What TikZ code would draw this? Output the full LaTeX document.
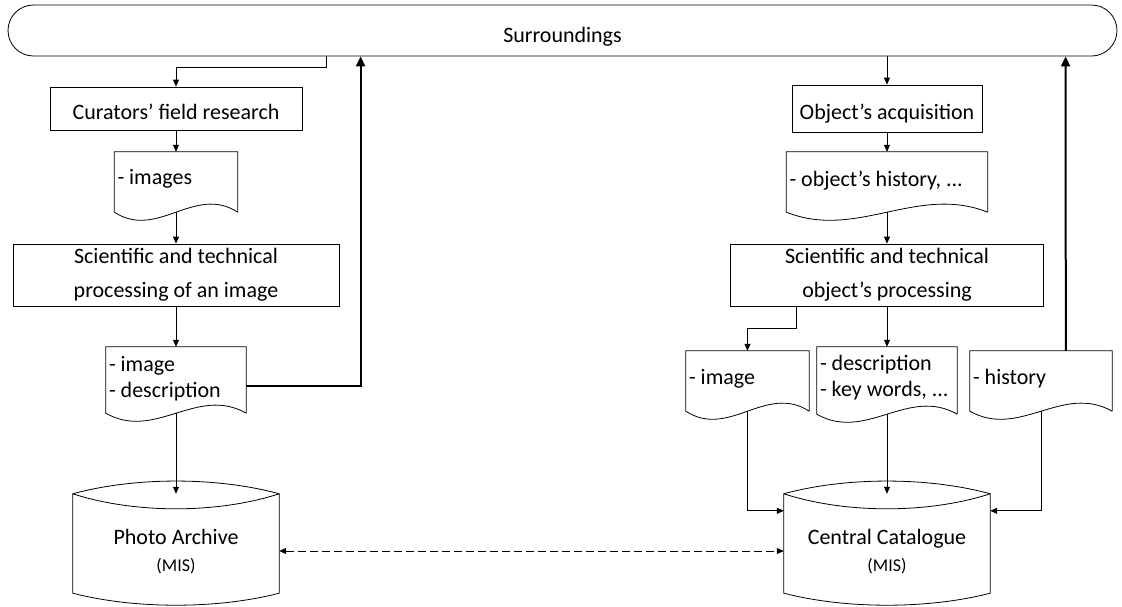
\documentclass[tikz,border=0pt]{standalone}
\usepackage{fontspec}
\setmainfont{Carlito}
\usetikzlibrary{calc,arrows.meta}
\newcommand\docwave[1]{%
  \draw[shapeline] (#1.south east) -- (#1.north east) -- (#1.north west) -- (#1.south west)
    .. controls ($(#1.south west)!0.35!(#1.south east)+(0,28)$) and ($(#1.south west)!0.65!(#1.south east)+(0,-28)$) .. (#1.south east);}
\newcommand\cylshape[1]{%
  \draw[shapeline] (#1.north west)
    .. controls ($(#1.north west)!0.3!(#1.north east)+(0,-17)$) and ($(#1.north west)!0.7!(#1.north east)+(0,-17)$) .. (#1.north east)
    -- (#1.south east)
    .. controls ($(#1.south west)!0.7!(#1.south east)+(0,16)$) and ($(#1.south west)!0.3!(#1.south east)+(0,16)$) .. (#1.south west)
    -- cycle;
  \draw[shapeline] (#1.north west)
    .. controls ($(#1.north west)!0.3!(#1.north east)+(0,20)$) and ($(#1.north west)!0.7!(#1.north east)+(0,20)$) .. (#1.north east);}
\begin{document}
\begin{tikzpicture}[x=1pt,y=-1pt,
  shapeline/.style={line width=0.8pt},
  termbox/.style={draw, line width=0.8pt, rounded corners=25.5pt, minimum width=1109pt, minimum height=51pt, text height=23pt, text depth=0pt, font=\fontsize{22}{26}\selectfont},
  procbox/.style={draw, line width=0.8pt, align=center, inner sep=2pt, font=\fontsize{22}{34}\selectfont},
  oneline/.style={text height=21.5pt, text depth=0pt},
  docbox/.style={inner sep=0pt},
  doctext/.style={inner sep=0pt, align=left, anchor=west, font=\fontsize{22}{26}\selectfont},
  cylbox/.style={inner sep=0pt, minimum width=206pt, minimum height=99pt},
  cyltext/.style={align=center, font=\fontsize{22}{27}\selectfont},
  arr/.style={line width=0.8pt, -{Triangle[length=7pt,width=6pt]}},
  thickarr/.style={line width=2pt, -{Triangle[length=10pt,width=9pt]}},
  dasharr/.style={line width=0.8pt, dash pattern=on 8pt off 4pt, {Triangle[length=7pt,width=6pt]}-{Triangle[length=7pt,width=6pt]}}
]
\useasboundingbox (0,0) rectangle (1122,606);

% top
\node[termbox] (sur) at (562.5,30.5) {Surroundings};

% left column
\node[procbox, oneline, minimum width=252pt, minimum height=43pt] (cur) at (176,108.5) {Curators’ field research};
\node[docbox, minimum width=123pt, minimum height=60pt] (imgs) at (176,182) {};
\node[doctext] (imgs-t) at ($(imgs.west)+(3,-3)$) {- images};
\node[procbox, minimum width=326pt, minimum height=62pt] (sci1) at (176,275) {Scientific and technical\\processing of an image};
\node[docbox, minimum width=140pt, minimum height=66pt] (imd) at (176,380) {};
\node[doctext] (imd-t) at ($(imd.west)+(3,-1.5)$) {- image\\- description};
\node[cylbox] (pa) at (176,543.5) {};
\node[cyltext] (patxt) at (176,551.5) {Photo Archive\\{\fontsize{18}{27}\selectfont (MIS)}};

% right column
\node[procbox, oneline, minimum width=190pt, minimum height=47pt] (acq) at (887,108.5) {Object’s acquisition};
\node[docbox, minimum width=201pt, minimum height=60pt] (oh) at (887,182) {};
\node[doctext] (oh-t) at ($(oh.west)+(3,-1.5)$) {- object’s history, ...};
\node[procbox, minimum width=313pt, minimum height=62pt] (sci2) at (887,275) {Scientific and technical\\object’s processing};
\node[docbox, minimum width=123pt, minimum height=60pt] (img2) at (747.5,381) {};
\node[doctext] (img2-t) at ($(img2.west)+(3,-2.5)$) {- image};
\node[docbox, minimum width=140pt, minimum height=67pt] (desc) at (887,380.5) {};
\node[doctext] (desc-t) at ($(desc.west)+(3,-3)$) {- description\\- key words, ...};
\node[docbox, minimum width=142pt, minimum height=60pt] (hist) at (1041,381) {};
\node[doctext] (hist-t) at ($(hist.west)+(3,-2.5)$) {- history};
\node[cylbox] (cc) at (887,543.5) {};
\node[cyltext] (cctxt) at (887,551.5) {Central Catalogue\\{\fontsize{18}{27}\selectfont (MIS)}};

% shapes
\docwave{imgs}
\docwave{imd}
\docwave{oh}
\docwave{img2}
\docwave{desc}
\docwave{hist}
\cylshape{pa}
\cylshape{cc}

% connectors left
\draw[arr] ($(sur.south west)+(319,0)$) -- ++(0,11) -| (cur.north);
\draw[arr] (cur.south) -- (imgs.north);
\draw[arr] (imgs.south) -- (sci1.north);
\draw[arr] (sci1.south) -- (imd.north);
\draw[arr] (imd.south) -- (pa.north);
\draw[thickarr] ($(imd.east)+(0,6)$) -| ($(sur.south west)+(353,0)$);

% connectors right
\draw[arr] (sur.south -| acq.north) -- (acq.north);
\draw[arr] (acq.south) -- (oh.north);
\draw[arr] (oh.south) -- (sci2.north);
\draw[arr] ($(sci2.south west)+(66.5,0)$) -- ++(0,22) -| (img2.north);
\draw[arr] (sci2.south) -- (desc.north);
\draw[thickarr] ($(hist.north west)+(96,0)$) -- ($(sur.south west)+(1058,0)$);
\draw[arr] (img2.south) |- ($(cc.north west)+(0,17)$);
\draw[arr] (desc.south) -- (cc.north);
\draw[arr] (hist.south) |- ($(cc.north east)+(0,17)$);

% dashed link
\draw[dasharr] ($(pa.east)+(0,7.5)$) -- ($(cc.west)+(0,7.5)$);
\end{tikzpicture}
\end{document}
